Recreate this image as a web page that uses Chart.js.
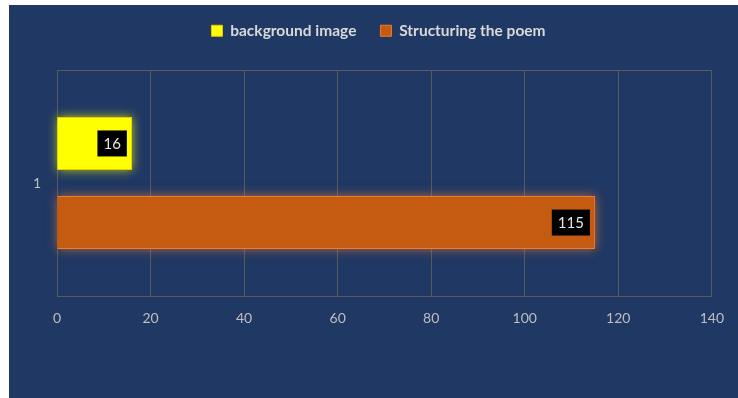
<!DOCTYPE html>
<html>
<head>
<meta charset="utf-8">
<script src="https://cdn.jsdelivr.net/npm/chart.js@4"></script>
<style>
  body { margin: 0; background: #ffffff; }
  #wrap { position: absolute; left: 9px; top: 5px; width: 729px; height: 393px; background: #203864; }
</style>
</head>
<body>
<div id="wrap"><canvas id="barchart" width="729" height="393"></canvas></div>
<script>
const categories = ['1'];
const backgroundImage = [16];
const structuringPoem = [115];
const xTicks = [0, 20, 40, 60, 80, 100, 120, 140];
const glowColors = ['rgba(255,255,0,0.7)', 'rgba(237,125,49,0.7)'];

// black boxes with the values, inside the end of each bar
const valueBoxes = {
    id: 'valueBoxes',
    afterDatasetsDraw(chart) {
        const ctx = chart.ctx;
        ctx.save();
        ctx.font = '15px Lato';
        ctx.textAlign = 'center';
        ctx.textBaseline = 'middle';
        chart.data.datasets.forEach((ds, i) => {
            chart.getDatasetMeta(i).data.forEach((bar, j) => {
                const txt = String(ds.data[j]);
                const w = ctx.measureText(txt).width + 12;
                const h = 26;
                const right = bar.x - 5;
                ctx.fillStyle = '#000000';
                ctx.fillRect(right - w, bar.y - h / 2, w, h);
                ctx.fillStyle = '#e6e6e6';
                ctx.fillText(txt, right - w / 2, bar.y + 1);
            });
        });
        ctx.restore();
    }
};

// soft glow round the bars, drawn under them
const glow = {
    id: 'glow',
    beforeDatasetsDraw(chart) {
        const ctx = chart.ctx;
        chart.data.datasets.forEach((ds, i) => {
            chart.getDatasetMeta(i).data.forEach(bar => {
                ctx.save();
                ctx.shadowBlur = 10;
                ctx.shadowColor = glowColors[i];
                ctx.fillStyle = ds.backgroundColor;
                ctx.fillRect(bar.base, bar.y - bar.height / 2, bar.x - bar.base, bar.height);
                ctx.restore();
            });
        });
    }
};

// fix the legend height, and nudge it right like in the original
const legendTweak = {
    id: 'legendTweak',
    beforeInit(chart) {
        const legend = chart.legend;
        const fit = legend.fit;
        legend.fit = function () {
            fit.bind(legend)();
            this.height = 71;
        };
        const draw = legend.draw;
        legend.draw = function () {
            chart.ctx.save();
            chart.ctx.translate(18, 0);
            draw.bind(legend)();
            chart.ctx.restore();
        };
    }
};

window.addEventListener('load', () => {
    const ctx = document.getElementById('barchart');
    new Chart(ctx, {
        type: 'bar',
        data: {
            labels: categories,
            datasets: [
                {
                    label: 'background image',
                    data: backgroundImage,
                    backgroundColor: '#ffff00',
                    borderColor: '#e8c800',
                    borderWidth: 1,
                    barPercentage: 0.67,
                    categoryPercentage: 0.7
                },
                {
                    label: 'Structuring the poem',
                    data: structuringPoem,
                    backgroundColor: '#c55a11',
                    borderColor: '#ed7d31',
                    borderWidth: 1,
                    barPercentage: 0.67,
                    categoryPercentage: 0.7
                }
            ]
        },
        options: {
            indexAxis: 'y',
            responsive: false,
            animation: false,
            layout: { padding: { top: -6, right: 26, bottom: 0, left: 0 } },
            scales: {
                x: {
                    min: 0,
                    max: 140,
                    afterBuildTicks(scale) {
                        scale.ticks = xTicks.map(v => ({ value: v }));
                    },
                    afterFit(scale) { scale.height = 102; },
                    grid: { color: '#5a5a5a', drawTicks: false },
                    border: { color: '#5a5a5a' },
                    ticks: { color: '#bfbfbf', font: { family: 'Lato', size: 14 }, padding: 14 }
                },
                y: {
                    afterFit(scale) { scale.width = 48; },
                    grid: { color: '#5a5a5a', drawTicks: false },
                    border: { color: '#5a5a5a' },
                    ticks: { color: '#bfbfbf', font: { family: 'Lato', size: 14 }, padding: 16 }
                }
            },
            plugins: {
                legend: {
                    position: 'top',
                    labels: {
                        color: '#d9d9d9',
                        font: { family: 'Lato', size: 15.5, weight: 'bold' },
                        boxWidth: 11,
                        boxHeight: 11,
                        padding: 24
                    }
                },
                tooltip: { enabled: false }
            }
        },
        plugins: [glow, valueBoxes, legendTweak]
    });
});
</script>
</body>
</html>
